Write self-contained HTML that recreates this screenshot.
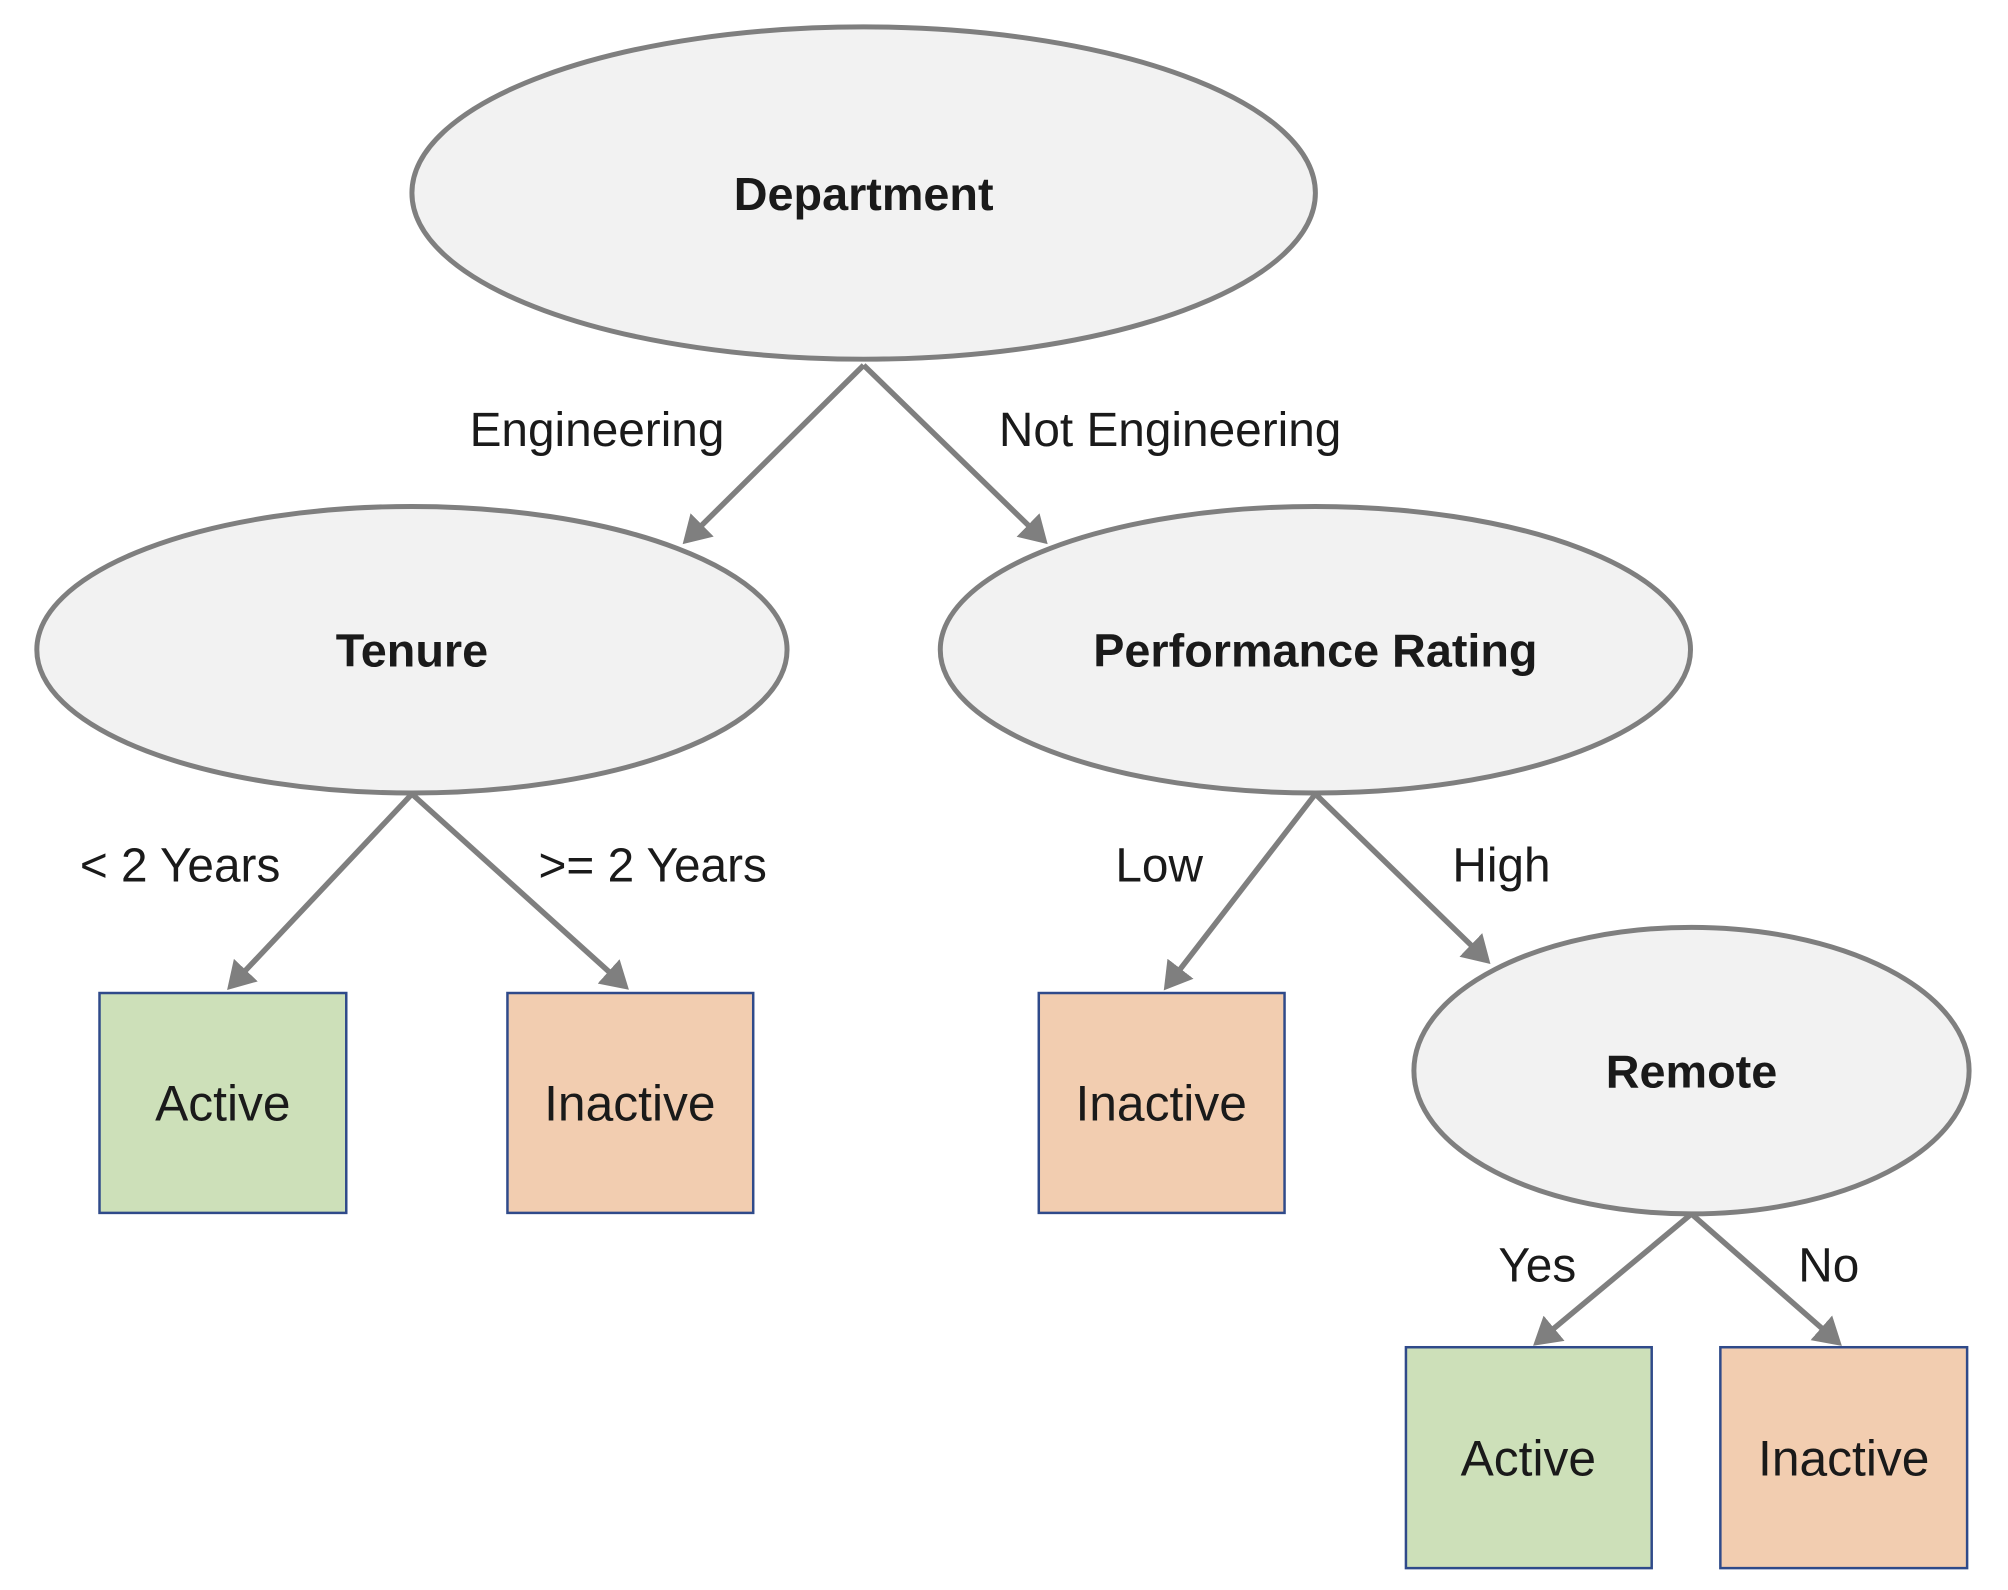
<!DOCTYPE html>
<html><head><meta charset="utf-8"><style>html,body{margin:0;padding:0;background:#fff}svg{display:block}</style></head>
<body>
<svg width="2008" height="1590" viewBox="0 0 2008 1590" xmlns="http://www.w3.org/2000/svg" font-family="'Liberation Sans', sans-serif">
<defs>
<marker id="a" markerWidth="6" markerHeight="6" refX="4" refY="3" orient="auto" markerUnits="strokeWidth">
<path d="M0,0 L5,3 L0,6 Z" fill="#7f7f7f"/>
</marker>
</defs>
<g transform="scale(0.995)">
<g stroke="#7f7f7f" stroke-width="5.5" fill="none" marker-end="url(#a)">
<line x1="868" y1="367" x2="690" y2="543"/>
<line x1="868" y1="367" x2="1049" y2="543"/>
<line x1="414" y1="798" x2="232" y2="991"/>
<line x1="414" y1="798" x2="628" y2="991"/>
<line x1="1322" y1="798" x2="1173" y2="991"/>
<line x1="1322" y1="798" x2="1494" y2="965"/>
<line x1="1700" y1="1220" x2="1545" y2="1349"/>
<line x1="1700" y1="1220" x2="1847" y2="1349"/>
</g>
<g fill="#f2f2f2" stroke="#7f7f7f" stroke-width="5">
<ellipse cx="868" cy="194" rx="454" ry="167"/>
<ellipse cx="414" cy="653" rx="377" ry="144"/>
<ellipse cx="1322" cy="653" rx="377" ry="144"/>
<ellipse cx="1700" cy="1076" rx="279" ry="144"/>
</g>
<g stroke="#2f4a8a" stroke-width="2.5">
<rect x="100" y="998" width="248" height="221" fill="#cde0b9"/>
<rect x="510" y="998" width="247" height="221" fill="#f2cdb0"/>
<rect x="1044" y="998" width="247" height="221" fill="#f2cdb0"/>
<rect x="1413" y="1354" width="247" height="222" fill="#cde0b9"/>
<rect x="1729" y="1354" width="248" height="222" fill="#f2cdb0"/>
</g>
<g fill="#1a1a1a" text-anchor="middle" font-weight="bold" font-size="47">
<text x="868" y="211">Department</text>
<text x="414" y="670">Tenure</text>
<text x="1322" y="670">Performance Rating</text>
<text x="1700" y="1093">Remote</text>
</g>
<g fill="#1a1a1a" text-anchor="middle" font-size="50">
<text x="224" y="1126">Active</text>
<text x="633" y="1126">Inactive</text>
<text x="1167" y="1126">Inactive</text>
<text x="1536" y="1483">Active</text>
<text x="1853" y="1483">Inactive</text>
</g>
<g fill="#1a1a1a" text-anchor="middle" font-size="48">
<text x="600" y="448">Engineering</text>
<text x="1176" y="448">Not Engineering</text>
<text x="181" y="886">&lt; 2 Years</text>
<text x="656" y="886">&gt;= 2 Years</text>
<text x="1165" y="886">Low</text>
<text x="1509" y="886">High</text>
<text x="1545" y="1288">Yes</text>
<text x="1838" y="1288">No</text>
</g>
</g>
</svg>
</body></html>
